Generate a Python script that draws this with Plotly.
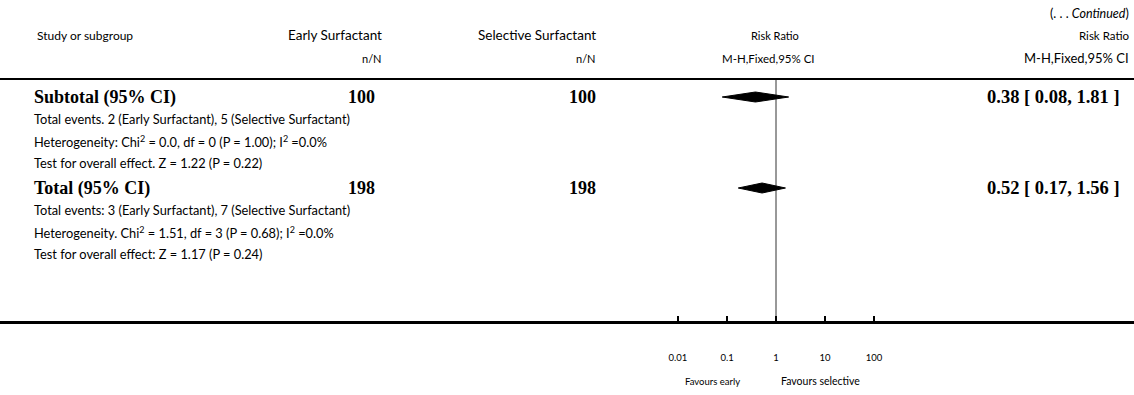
import plotly.graph_objects as go

W, H = 1134, 395

# ---- data ----
groups = ["Subtotal (95% CI)", "Total (95% CI)"]
early_n = [100, 198]
selective_n = [100, 198]
rr = [0.38, 0.52]
rr_lo = [0.08, 0.17]
rr_hi = [1.81, 1.56]
rr_text = ["0.38 [ 0.08, 1.81 ]", "0.52 [ 0.17, 1.56 ]"]
detail_lines = [
    ["Total events. 2 (Early Surfactant), 5 (Selective Surfactant)",
     "Heterogeneity: Chi<sup>2</sup> = 0.0, df = 0 (P = 1.00); I<sup>2</sup> =0.0%",
     "Test for overall effect. Z = 1.22 (P = 0.22)"],
    ["Total events: 3 (Early Surfactant), 7 (Selective Surfactant)",
     "Heterogeneity. Chi<sup>2</sup> = 1.51, df = 3 (P = 0.68); I<sup>2</sup> =0.0%",
     "Test for overall effect: Z = 1.17 (P = 0.24)"],
]
tick_vals = [0.01, 0.1, 1, 10, 100]
tick_text = ["0.01", "0.1", "1", "10", "100"]

# ---- layout constants (pixels) ----
x_one = 776.0       # pixel of RR = 1
px_per_dec = 49.0
xr = [-x_one / px_per_dec, (W - x_one) / px_per_dec]

row_y = [97, 188]
detail_dy = [22, 44, 66]
header_line_y = 79
axis_y = 322

SANS = "Lato, 'Open Sans', sans-serif"
SERIF = "'Liberation Serif', 'DejaVu Serif', serif"

fig = go.Figure()

# vertical line of no effect
fig.add_trace(go.Scatter(x=[1, 1], y=[header_line_y, axis_y], mode="lines",
                         line=dict(color="#333", width=1), hoverinfo="skip"))

# diamonds
hh = 5
for est, lo, hi, y in zip(rr, rr_lo, rr_hi, row_y):
    fig.add_trace(go.Scatter(
        x=[lo, est, hi, est, lo], y=[y, y - hh, y, y + hh, y],
        mode="lines", fill="toself", fillcolor="black",
        line=dict(color="black", width=1), hoverinfo="skip"))

ann = []
def T(x, y, text, size=11, anchor="left", font=SANS, bold=False):
    if bold:
        text = "<b>" + text + "</b>"
    ann.append(dict(x=x / W, y=y, xref="paper", yref="y", text=text,
                    showarrow=False, xanchor=anchor, yanchor="middle",
                    font=dict(family=font, size=size, color="black")))

# header
T(1131, 13, "(. . . <i>Continued</i>)", size=12.5, anchor="right")
T(35, 35, "Study or subgroup", size=12)
T(384, 35, "Early Surfactant", size=13.5, anchor="right")
T(384, 58, "n/N", size=11, anchor="right")
T(598, 35, "Selective Surfactant", size=13.5, anchor="right")
T(598, 58, "n/N", size=11, anchor="right")
T(775, 35, "Risk Ratio", size=11, anchor="center")
T(768, 58, "M-H,Fixed,95% CI", size=11.5, anchor="center")
T(1131, 35, "Risk Ratio", size=11.5, anchor="right")
T(1131, 58, "M-H,Fixed,95% CI", size=13, anchor="right")

for i in range(len(groups)):
    y = row_y[i]
    T(32, y, groups[i], size=18, font=SERIF, bold=True)
    T(377, y, str(early_n[i]), size=18, font=SERIF, bold=True, anchor="right")
    T(598, y, str(selective_n[i]), size=18, font=SERIF, bold=True, anchor="right")
    T(1122, y, rr_text[i], size=18.5, font=SERIF, bold=True, anchor="right")
    for dy, line in zip(detail_dy, detail_lines[i]):
        T(32, y + dy, line, size=12.8)

T(712, 381, "Favours early", size=9.5, anchor="center")
T(820, 381, "Favours selective", size=10.5, anchor="center")

fig.update_layout(
    width=W, height=H, margin=dict(l=0, r=0, t=0, b=0),
    paper_bgcolor="white", plot_bgcolor="white", showlegend=False,
    annotations=ann,
    shapes=[dict(type="line", xref="paper", yref="y", x0=0, x1=1,
                 y0=header_line_y, y1=header_line_y,
                 line=dict(color="black", width=2))],
    xaxis=dict(type="log", range=xr, domain=[0, 1], anchor="free",
               position=1 - axis_y / H, showline=True, linecolor="black",
               linewidth=2.5, ticks="inside", ticklen=5, tickwidth=1.5,
               tickcolor="black", tickvals=tick_vals, ticktext=tick_text,
               showgrid=False, zeroline=False, ticklabelstandoff=26,
               tickfont=dict(family=SANS, size=9.5, color="black")),
    yaxis=dict(range=[H, 0], domain=[0, 1], visible=False, showgrid=False,
               zeroline=False),
)

fig.write_html("out.html")
